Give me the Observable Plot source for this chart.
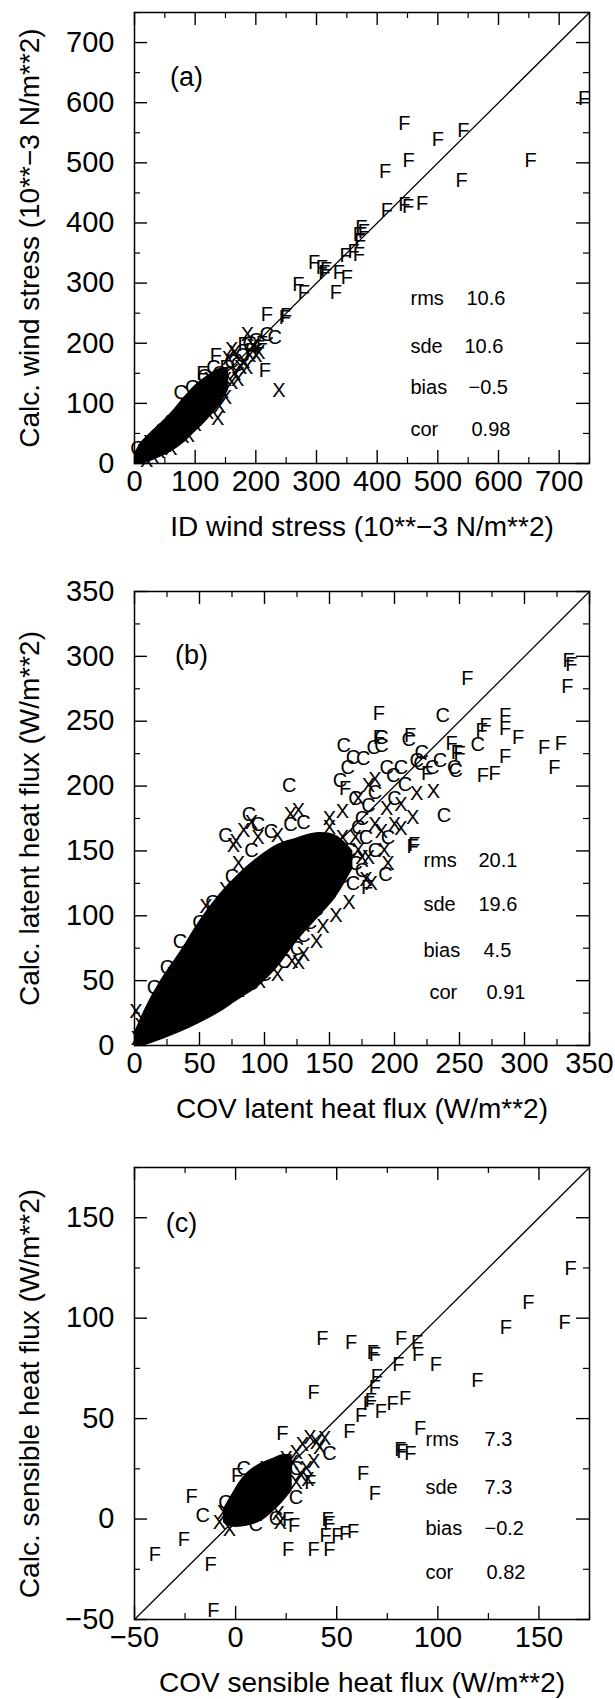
<!DOCTYPE html>
<html><head><meta charset="utf-8">
<script src="https://cdn.jsdelivr.net/npm/d3@7"></script>
<script src="https://cdn.jsdelivr.net/npm/@observablehq/plot@0.6"></script>
<style>
body{margin:0;background:#fff;}
#chart{width:615px;}
#chart svg{display:block;}
</style></head><body><div id="chart"></div>
<script>
// ---------- panel (a): wind stress ----------
const aTitleX = "ID wind stress (10**\u22123 N/m**2)";
const aTitleY = "Calc. wind stress (10**\u22123 N/m**2)";
const aTicks = [0,100,200,300,400,500,600,700];
const aMinor = [50,150,250,350,450,550,650,750];
const aDomain = [0,750];
const aStatVals = ["10.6","10.6","\u22120.5","0.98"];
const aCoreX  = [0, 10, 25, 40, 60, 80, 100, 120, 140, 155];
const aCoreLo = [0, 0, 3, 9, 19, 33, 52, 72, 96, 122];
const aCoreHi = [16, 34, 50, 64, 84, 108, 130, 146, 158, 160];
const aF = [[741,606],[445,565],[542,553],[500,538],[452,503],[413,486],[653,504],[539,470],[445,431],[451,428],[474,432],[416,420],[374,392],[378,386],[370,381],[372,370],[361,352],[370,348],[348,345],[337,318],[350,309],[332,284],[296,334],[309,326],[313,318],[316,322],[270,298],[279,284],[218,248],[248,243],[250,246],[215,154],[180,198],[192,187],[205,192],[210,200],[134,179],[150,160],[112,150]];
const aX = [[186,215],[238,121],[137,74],[89,46],[160,190],[200,180],[205,185],[175,160],[165,150],[150,140],[130,125],[120,100],[110,95],[100,80],[140,95],[150,110],[80,60],[70,50],[60,40],[50,30],[40,20],[30,12],[20,5],[15,20],[25,35],[40,45],[55,60],[70,75],[85,95],[110,125],[125,140],[155,175],[180,170],[190,180],[145,120],[160,135],[120,85],[100,65],[80,45],[60,25],[170,140],[185,160],[195,195],[165,185]];
const aC = [[76,118],[95,126],[218,215],[231,210],[130,160],[115,145],[160,170],[178,180],[100,105],[60,70],[45,55],[30,25],[10,10],[5,25],[140,150],[170,165],[200,205],[190,200]];

// ---------- panel (b): latent heat flux ----------
const bTitleX = "COV latent heat flux (W/m**2)";
const bTitleY = "Calc. latent heat flux (W/m**2)";
const bTicks = [0,50,100,150,200,250,300,350];
const bMinor = [25,75,125,175,225,275,325];
const bDomain = [0,350];
const bStatVals = ["20.1","19.6","4.5","0.91"];
const bCoreX  = [0, 8, 20, 35, 50, 65, 80, 95, 110, 125, 140, 155, 168];
const bCoreLo = [0, 0, 4, 10, 17, 25, 35, 45, 60, 80, 97, 114, 136];
const bCoreHi = [10, 28, 50, 72, 96, 116, 132, 145, 155, 160, 164, 162, 150];
const bF = [[336,294],[334,297],[333,277],[256,283],[188,256],[285,254],[285,244],[295,237],[270,247],[267,243],[315,230],[328,233],[323,214],[285,223],[277,210],[268,208],[244,233],[248,226],[250,225],[212,239],[188,237],[162,198],[214,153],[215,155],[179,122],[225,210]];
const bC = [[237,254],[264,232],[246,214],[247,212],[238,177],[119,200],[70,162],[221,226],[220,217],[229,214],[235,220],[217,220],[161,231],[168,222],[176,221],[184,230],[190,231],[164,214],[158,204],[194,214],[199,208],[205,214],[208,201],[193,132],[190,237],[211,236],[170,190],[180,185],[185,195],[175,175],[200,190],[195,160],[185,150],[175,135],[160,130],[150,120],[140,105],[135,95],[130,85],[125,75],[115,65],[100,55],[90,48],[75,40],[60,35],[45,30],[30,20],[20,15],[15,45],[25,60],[35,80],[50,95],[60,110],[75,130],[90,150],[105,165],[120,170],[130,172],[88,178],[95,170],[172,168],[165,150],[178,160],[170,140],[168,125]];
const bX = [[217,194],[230,196],[214,176],[205,167],[194,183],[205,186],[126,64],[121,65],[96,49],[50,25],[78,157],[76,154],[84,166],[55,107],[1,26],[90,172],[126,181],[120,178],[200,170],[190,165],[192,150],[195,140],[180,145],[170,160],[182,125],[178,128],[165,110],[155,100],[145,92],[140,80],[130,70],[110,55],[80,42],[65,38],[40,25],[10,8],[5,15],[2,5],[30,55],[45,75],[60,100],[70,120],[80,140],[95,160],[110,162],[150,175],[160,180],[172,190],[180,200],[185,205],[175,145],[185,170],[160,160],[172,150],[162,140],[150,168]];

// ---------- panel (c): sensible heat flux ----------
const cTitleX = "COV sensible heat flux (W/m**2)";
const cTitleY = "Calc. sensible heat flux (W/m**2)";
const cTicks = [-50,0,50,100,150];
const cMinor = [-25,25,75,125,175];
const cDomain = [-50,175];
const cStatVals = ["7.3","7.3","\u22120.2","0.82"];
const cCoreX  = [-6, -2, 3, 8, 13, 18, 23, 28];
const cCoreLo = [-2, -4, -4, -3, -1, 3, 8, 14];
const cCoreHi = [5, 12, 20, 25, 28, 30, 32, 32];
const cF = [[165.7,124.5],[144.8,107.7],[133.7,95.3],[162.7,97.8],[42.9,89.9],[57.1,87.9],[67.9,83],[68.8,82],[81.9,89.9],[89.7,87.9],[90.3,82],[99,76.7],[80.5,76.7],[69.8,71.1],[68.8,65.6],[119.5,68.7],[38.6,63.2],[66.9,59.2],[65.9,57.3],[77.6,57.7],[83.8,60.2],[71.8,53.3],[62,51.3],[56.2,43.4],[91.2,45],[23.1,42.4],[81.5,34.5],[82.5,33.5],[86.4,32.5],[63,22.6],[68.8,12.7],[0.7,21.6],[-21.8,11.4],[26,-0.1],[28.9,-3.1],[45.5,-0.1],[46.4,-2.1],[44.5,-8],[50.3,-8],[54.2,-7.1],[58.1,-6.1],[26,-15],[38.6,-15],[46.4,-15],[-25.6,-10],[-39.9,-17.9],[-12.4,-22.9],[-11,-45.6],[37,18]];
const cC = [[-16.3,1.9],[29.9,10.8],[46.4,32.5],[4,25],[-5,8],[10,-3],[20,0],[30,25]];
const cX = [[21.1,2.8],[36.7,40.4],[41.6,35.5],[38.6,28.6],[35.7,19.7],[33,37],[30,33],[28,28],[25,30],[-8,-2],[-3,-5],[-6,3],[15,25],[35,25],[40,38],[44,40],[32,22],[22,-2],[30,18]];

const statNames = ["rms","sde","bias","cor"];

const FONT = "'Liberation Sans', Arial, Helvetica, sans-serif";
const fmt = d => d < 0 ? "\u2212" + Math.abs(d) : String(d);

function panel(o) {
  const W = 615, ML = 134, MR = 26;
  const innerW = W - ML - MR, innerH = o.height - o.mt - o.mb;
  const L = 13, S = 6;
  const core = o.coreX.map((x, i) => ({x, lo: o.coreLo[i], hi: o.coreHi[i]}));
  const sym = (arr, ch) => Plot.text(arr, {x: d => d[0], y: d => d[1], text: () => ch, fontSize: 20, fill: "black"});
  const marks = [
    Plot.areaY(core, {x: "x", y1: "lo", y2: "hi", fill: "black", curve: "catmull-rom"}),
    Plot.line(o.domain, {x: d => d, y: d => d, stroke: "black", strokeWidth: 1.3}),
    sym(o.C, "C"), sym(o.X, "X"), sym(o.F, "F"),
    Plot.frame({stroke: "black", strokeWidth: 1.5}),
    Plot.tickY(o.ticks, {y: d => d, insetRight: innerW - L, strokeWidth: 1.4}),
    Plot.tickY(o.ticks, {y: d => d, insetLeft: innerW - L, strokeWidth: 1.4}),
    Plot.tickY(o.minor, {y: d => d, insetRight: innerW - S, strokeWidth: 1.2}),
    Plot.tickY(o.minor, {y: d => d, insetLeft: innerW - S, strokeWidth: 1.2}),
    Plot.tickX(o.ticks, {x: d => d, insetBottom: innerH - L, strokeWidth: 1.4}),
    Plot.tickX(o.ticks, {x: d => d, insetTop: innerH - L, strokeWidth: 1.4}),
    Plot.tickX(o.minor, {x: d => d, insetBottom: innerH - S, strokeWidth: 1.2}),
    Plot.tickX(o.minor, {x: d => d, insetTop: innerH - S, strokeWidth: 1.2}),
    Plot.axisX({ticks: o.ticks, tickSize: 0, tickPadding: 7, tickFormat: fmt, label: null, fontSize: 29}),
    Plot.axisY({ticks: o.ticks, tickSize: 0, tickPadding: 20, tickFormat: fmt, label: null, fontSize: 29}),
    Plot.text([o.titleX], {text: d => d, frameAnchor: "bottom", textAnchor: "middle", lineAnchor: "middle", dy: 64, fontSize: 28}),
    Plot.text([o.titleY], {text: d => d, frameAnchor: "left", textAnchor: "middle", lineAnchor: "middle", dx: -104, rotate: -90, fontSize: 28}),
    Plot.text([o.tag], {text: d => d, frameAnchor: "top-left", textAnchor: "middle", lineAnchor: "middle", dx: o.tagDx, dy: o.tagDy, fontSize: 27})
  ];
  statNames.forEach((n, i) => {
    marks.push(Plot.text([n], {text: d => d, frameAnchor: "top-left", textAnchor: "start", lineAnchor: "middle", dx: o.statDx[i], dy: o.statDy[i], fontSize: 20}));
    marks.push(Plot.text([o.stats[i]], {text: d => d, frameAnchor: "top-left", textAnchor: "start", lineAnchor: "middle", dx: o.valDx[i], dy: o.statDy[i], fontSize: 20}));
  });
  return Plot.plot({
    width: W, height: o.height,
    marginLeft: ML, marginRight: MR, marginTop: o.mt, marginBottom: o.mb,
    x: {domain: o.domain, nice: false},
    y: {domain: o.domain, nice: false},
    style: {fontFamily: FONT, color: "black", background: "white", overflow: "visible"},
    marks
  });
}

const chart = document.getElementById("chart");
chart.appendChild(panel({
  height: 578, mt: 12, mb: 115, domain: aDomain, ticks: aTicks, minor: aMinor,
  coreX: aCoreX, coreLo: aCoreLo, coreHi: aCoreHi, F: aF, X: aX, C: aC,
  titleX: aTitleX, titleY: aTitleY, tag: "(a)", tagDx: 52, tagDy: 65,
  stats: aStatVals, statDx: [276,276,276,276], valDx: [332,330,334,337], statDy: [286,334,375,417]
}));
chart.appendChild(panel({
  height: 577, mt: 13, mb: 110, domain: bDomain, ticks: bTicks, minor: bMinor,
  coreX: bCoreX, coreLo: bCoreLo, coreHi: bCoreHi, F: bF, X: bX, C: bC,
  titleX: bTitleX, titleY: bTitleY, tag: "(b)", tagDx: 57, tagDy: 64,
  stats: bStatVals, statDx: [289,289,289,295], valDx: [344,344,349,352], statDy: [269,313,359,401]
}));
chart.appendChild(panel({
  height: 544, mt: 12, mb: 80, domain: cDomain, ticks: cTicks, minor: cMinor,
  coreX: cCoreX, coreLo: cCoreLo, coreHi: cCoreHi, F: cF, X: cX, C: cC,
  titleX: cTitleX, titleY: cTitleY, tag: "(c)", tagDx: 47, tagDy: 56,
  stats: cStatVals, statDx: [291,291,291,291], valDx: [350,350,350,352], statDy: [272,320,361,405]
}));
</script></body></html>
